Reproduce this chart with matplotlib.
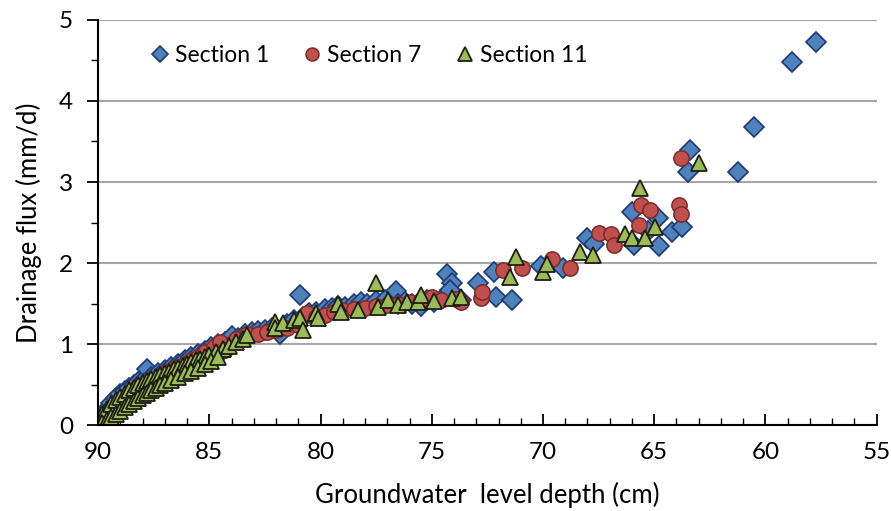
import numpy as np
import matplotlib
matplotlib.use('agg')
import matplotlib.pyplot as plt
from matplotlib.ticker import MultipleLocator

# groundwater level depth (cm) and drainage flux (mm/d) per section
s1_depth = [90.0, 89.8, 89.6, 89.4, 89.2, 89.0, 88.8, 88.6, 88.4, 88.2, 87.9, 87.8,
            87.6, 87.3, 87.0, 86.7, 86.4, 86.1, 85.8, 85.5, 85.2, 84.9, 84.6, 84.3,
            84.0, 83.7, 83.4, 83.1, 82.8, 82.5, 82.2, 81.8, 81.5, 81.2, 80.9, 80.8,
            80.5, 80.2, 79.8, 79.5, 79.2, 78.9, 78.5, 78.2, 77.9, 77.5, 77.1, 76.6,
            76.5, 76.2, 75.9, 75.5, 75.2, 74.9, 74.5, 74.3, 74.1, 74.2, 73.7, 72.9,
            72.2, 72.1, 71.4, 70.1, 69.1, 68.0, 67.7, 66.0, 65.9, 65.3, 64.85, 64.8,
            64.2, 63.75, 63.5, 63.4, 61.25, 60.5, 58.8, 57.75]
s1_flux = [0.05, 0.12, 0.20, 0.27, 0.33, 0.38, 0.42, 0.46, 0.50, 0.53, 0.57, 0.69,
           0.60, 0.64, 0.68, 0.72, 0.76, 0.80, 0.84, 0.88, 0.92, 0.96, 1.00, 1.03,
           1.10, 1.08, 1.12, 1.15, 1.16, 1.18, 1.20, 1.12, 1.25, 1.30, 1.60, 1.33,
           1.38, 1.40, 1.43, 1.45, 1.47, 1.46, 1.50, 1.52, 1.50, 1.53, 1.55, 1.65,
           1.50, 1.52, 1.49, 1.47, 1.55, 1.52, 1.57, 1.87, 1.76, 1.67, 1.55, 1.75,
           1.89, 1.58, 1.54, 1.96, 1.94, 2.31, 2.23, 2.63, 2.22, 2.40, 2.56, 2.21,
           2.38, 2.45, 3.12, 3.40, 3.12, 3.68, 4.48, 4.73]

s7_depth = [90.0, 89.7, 89.4, 89.1, 88.8, 88.5, 88.2, 87.9, 87.6, 87.3, 87.0, 86.7,
            86.4, 86.1, 85.8, 85.5, 85.2, 84.8, 84.5, 84.3, 83.8, 83.3, 82.8, 82.4,
            82.0, 81.5, 81.0, 80.6, 80.2, 79.8, 79.4, 79.0, 78.5, 78.0, 77.5, 77.0,
            76.5, 76.0, 75.5, 75.0, 74.6, 73.9, 73.7, 72.8, 72.75, 71.8, 70.95, 69.6,
            68.8, 67.5, 66.95, 66.8, 65.7, 65.6, 65.2, 63.9, 63.8, 63.8]
s7_flux = [0.03, 0.10, 0.20, 0.28, 0.35, 0.42, 0.48, 0.52, 0.56, 0.60, 0.64, 0.68,
           0.72, 0.76, 0.80, 0.84, 0.90, 0.96, 1.02, 0.93, 1.06, 1.13, 1.12, 1.15,
           1.18, 1.20, 1.23, 1.38, 1.33, 1.36, 1.40, 1.42, 1.43, 1.45, 1.47, 1.48,
           1.50, 1.52, 1.54, 1.58, 1.55, 1.56, 1.52, 1.57, 1.64, 1.91, 1.94, 2.05,
           1.94, 2.37, 2.36, 2.22, 2.47, 2.72, 2.65, 2.72, 2.60, 3.30]

s11_depth = [90.0, 89.8, 89.6, 89.4, 89.2, 89.0, 88.8, 88.6, 88.4, 88.2, 88.0, 87.8,
             87.6, 87.4, 87.2, 87.0, 86.8, 86.6, 86.4, 86.2, 86.0, 85.8, 85.6, 85.4,
             85.2, 85.0, 84.7, 84.4, 84.1, 83.8, 83.5,
             90.0, 89.8, 89.6, 89.4, 89.2, 89.0, 88.8, 88.6, 88.4, 88.2, 88.0, 87.8,
             87.6, 87.4, 87.2, 87.0, 86.7, 86.4, 86.1, 85.8, 85.5, 85.2, 84.9, 84.6,
             83.3, 82.05, 82.05, 81.7, 81.2, 80.9, 80.8, 80.2, 80.1, 79.2, 79.1, 78.3,
             77.5, 77.4, 76.95, 76.5, 76.1, 75.6, 75.5, 74.9, 74.1, 73.7, 71.5, 71.2,
             70.0, 69.8, 68.35, 67.75, 66.3, 66.0, 65.65, 65.4, 64.95, 63.0]
s11_flux = [0.08, 0.14, 0.20, 0.26, 0.31, 0.35, 0.39, 0.43, 0.46, 0.49, 0.52, 0.55,
            0.57, 0.60, 0.62, 0.64, 0.66, 0.69, 0.71, 0.73, 0.75, 0.78, 0.80, 0.82,
            0.84, 0.86, 0.90, 0.94, 0.98, 1.02, 1.06,
            0.00, 0.03, 0.06, 0.10, 0.14, 0.18, 0.22, 0.26, 0.30, 0.33, 0.37, 0.40,
            0.43, 0.46, 0.49, 0.52, 0.56, 0.60, 0.64, 0.67, 0.71, 0.75, 0.79, 0.84,
            1.11, 1.27, 1.20, 1.26, 1.30, 1.32, 1.17, 1.38, 1.32, 1.50, 1.40, 1.42,
            1.75, 1.46, 1.54, 1.48, 1.52, 1.52, 1.60, 1.53, 1.57, 1.58, 1.83, 2.07,
            1.89, 1.99, 2.14, 2.10, 2.36, 2.31, 2.93, 2.31, 2.45, 3.23]

fig = plt.figure(figsize=(8.91, 5.11), dpi=100)
ax = fig.add_axes([0.110, 0.168, 0.874, 0.793])

font = 'Lato'

ax.plot(s1_depth, s1_flux, linestyle='none', marker='D', markersize=10,
        markerfacecolor='#4F81BD', markeredgecolor='#1F3A70', markeredgewidth=1.2,
        label='Section 1', zorder=3)
ax.plot(s7_depth, s7_flux, linestyle='none', marker='o', markersize=11,
        markerfacecolor='#C0504D', markeredgecolor='#7A2B29', markeredgewidth=1.1,
        label='Section 7', zorder=4)
ax.plot(s11_depth, s11_flux, linestyle='none', marker='^', markersize=12,
        markerfacecolor='#9BBB59', markeredgecolor='#1E1E14', markeredgewidth=1.3,
        label='Section 11', zorder=5)

ax.set_xlim(90, 55)
ax.set_ylim(0, 5)

ax.yaxis.grid(True, color='#A6A6A6', linewidth=1.5, zorder=0)
ax.set_axisbelow(True)

for side in ['top', 'right']:
    ax.spines[side].set_visible(False)
for side in ['left', 'bottom']:
    ax.spines[side].set_linewidth(1.5)
    ax.spines[side].set_color('black')
    ax.spines[side].set_zorder(6)

ax.xaxis.set_major_locator(MultipleLocator(5))
ax.xaxis.set_minor_locator(MultipleLocator(1))
ax.yaxis.set_major_locator(MultipleLocator(1))
ax.yaxis.set_minor_locator(MultipleLocator(0.5))
ax.tick_params(axis='x', which='major', direction='in', length=8, width=1.3, pad=12)
ax.tick_params(axis='x', which='minor', direction='in', length=5, width=1.0)
ax.tick_params(axis='y', which='major', direction='out', length=8, width=1.3, pad=10)
ax.tick_params(axis='y', which='minor', direction='out', length=5, width=1.0)

for lbl in ax.get_xticklabels() + ax.get_yticklabels():
    lbl.set_fontfamily(font)
    lbl.set_fontsize(17.5)

ax.set_xlabel('Groundwater  level depth (cm)', fontsize=18.5, fontfamily=font, labelpad=14)
ax.set_ylabel('Drainage flux (mm/d)', fontsize=18.5, fontfamily=font, labelpad=12)

leg = ax.legend(loc='upper left', ncol=3, frameon=False, bbox_to_anchor=(0.035, 0.988),
                prop={'family': font, 'size': 16.5}, handletextpad=0.05,
                columnspacing=1.3, handlelength=1.2, markerscale=0.85)

fig.savefig('out.png', dpi=100)
